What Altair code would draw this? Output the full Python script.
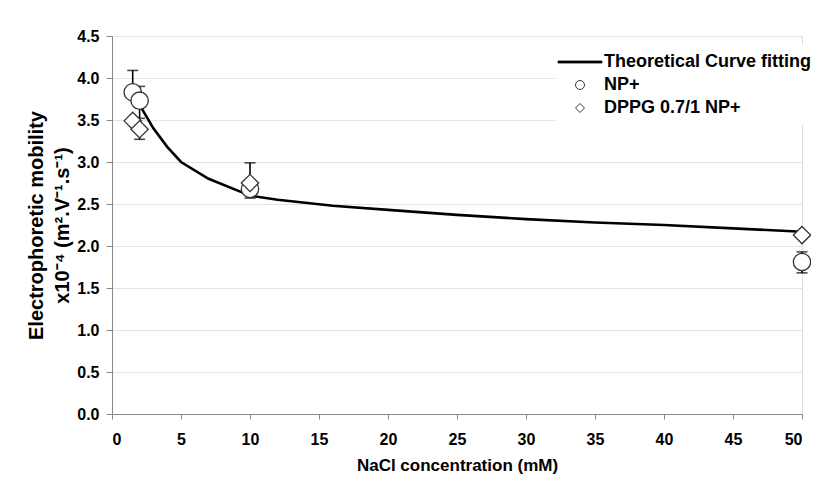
import altair as alt
import pandas as pd

# Theoretical curve
curve_x = [2, 3, 4, 5, 7, 10, 12, 16, 20, 25, 30, 35, 40, 45, 50]
curve_y = [3.68, 3.40, 3.18, 3.00, 2.80, 2.60, 2.55, 2.48, 2.43, 2.37, 2.32, 2.28, 2.25, 2.21, 2.17]

# Measured points
np_x = [1.5, 2, 10, 50]
np_y = [3.83, 3.73, 2.68, 1.81]
dppg_x = [1.5, 2, 10, 50]
dppg_y = [3.49, 3.39, 2.75, 2.13]

# Error bars (one-sided, Excel style)
err_x = [1.5, 2, 2, 2, 10, 10, 50]
err_lo = [3.83, 3.73, 3.52, 3.27, 2.75, 2.57, 1.68]
err_hi = [4.09, 3.90, 3.73, 3.39, 2.99, 2.68, 1.93]

series = ["Theoretical Curve fitting", "NP+", "DPPG 0.7/1 NP+"]
y_ticks = [0, 0.5, 1, 1.5, 2, 2.5, 3, 3.5, 4, 4.5]
x_ticks = list(range(0, 55, 5))

curve_df = pd.DataFrame({"x": curve_x, "y": curve_y})
pts_df = pd.DataFrame({
    "x": np_x + dppg_x,
    "y": np_y + dppg_y,
    "series": ["NP+"] * len(np_x) + ["DPPG 0.7/1 NP+"] * len(dppg_x),
})
err_df = pd.DataFrame({"x": err_x, "lo": err_lo, "hi": err_hi})

FONT = "Liberation Sans"

xscale = alt.Scale(domain=[0, 50], nice=False)
yscale = alt.Scale(domain=[0, 4.5], nice=False)

x_axis = alt.Axis(values=x_ticks, title="NaCl concentration (mM)", grid=False,
                  labelFontSize=16, labelFontWeight="bold", labelFont=FONT,
                  titleFontSize=17, titleFontWeight="bold", titleFont=FONT,
                  tickSize=5, labelPadding=12, titlePadding=10,
                  domainColor="#888888", tickColor="#888888", labelColor="black",
                  titleColor="black")
y_axis = alt.Axis(values=y_ticks, format=".1f",
                  title=["Electrophoretic mobility", "x10⁻⁴ (m².V⁻¹.s⁻¹)"],
                  grid=True, gridColor="#e4e4e4", gridWidth=1,
                  labelFontSize=16, labelFontWeight="bold", labelFont=FONT,
                  titleFontSize=20, titleFontWeight="bold", titleFont=FONT,
                  titleLineHeight=26,
                  tickSize=6, labelPadding=7, titlePadding=4,
                  domainColor="#888888", tickColor="#888888", labelColor="black",
                  titleColor="black")

err_rule = alt.Chart(err_df).mark_rule(color="black", strokeWidth=1.6).encode(
    x=alt.X("x:Q", scale=xscale, axis=x_axis),
    y=alt.Y("lo:Q", scale=yscale, axis=y_axis),
    y2="hi:Q",
)
cap_hi = alt.Chart(err_df).mark_tick(color="black", thickness=1.6, size=11, orient="horizontal").encode(
    x=alt.X("x:Q", scale=xscale),
    y=alt.Y("hi:Q", scale=yscale),
)
cap_lo = alt.Chart(err_df).mark_tick(color="black", thickness=1.6, size=11, orient="horizontal").encode(
    x=alt.X("x:Q", scale=xscale),
    y=alt.Y("lo:Q", scale=yscale),
)

line = alt.Chart(curve_df).mark_line(color="black", strokeWidth=2.6).encode(
    x=alt.X("x:Q", scale=xscale),
    y=alt.Y("y:Q", scale=yscale),
)

legend = alt.Legend(title=None, orient="none", legendX=443, legendY=9,
                    fillColor="white", padding=8, labelFont=FONT,
                    labelFontSize=18, labelFontWeight="bold", labelColor="black",
                    labelLimit=0,
                    symbolSize=80, symbolStrokeWidth=1,
                    rowPadding=5, labelOffset=15, symbolOffset=8)

points = alt.Chart(pts_df).mark_point(filled=True, size=300,
                                      strokeWidth=1.3, opacity=1).encode(
    x=alt.X("x:Q", scale=xscale),
    y=alt.Y("y:Q", scale=yscale),
    shape=alt.Shape("series:N", legend=legend,
                    scale=alt.Scale(domain=series,
                                    range=["M-4.9,-0.2H4.9V0.2H-4.9Z", "circle", "diamond"])),
    fill=alt.Fill("series:N", legend=legend,
                  scale=alt.Scale(domain=series, range=["black", "white", "white"])),
    stroke=alt.Stroke("series:N", legend=legend,
                      scale=alt.Scale(domain=series, range=["black", "#333333", "#333333"])),
)

chart = alt.layer(err_rule, cap_hi, cap_lo, line, points).properties(
    width=690, height=378,
    autosize=alt.AutoSizeParams(type="none"),
    padding={"left": 104, "top": 28, "right": 9, "bottom": 60},
).configure_view(stroke=None).configure(background="white")

chart.save("out.html", embed_options={"renderer": "svg", "actions": False})
